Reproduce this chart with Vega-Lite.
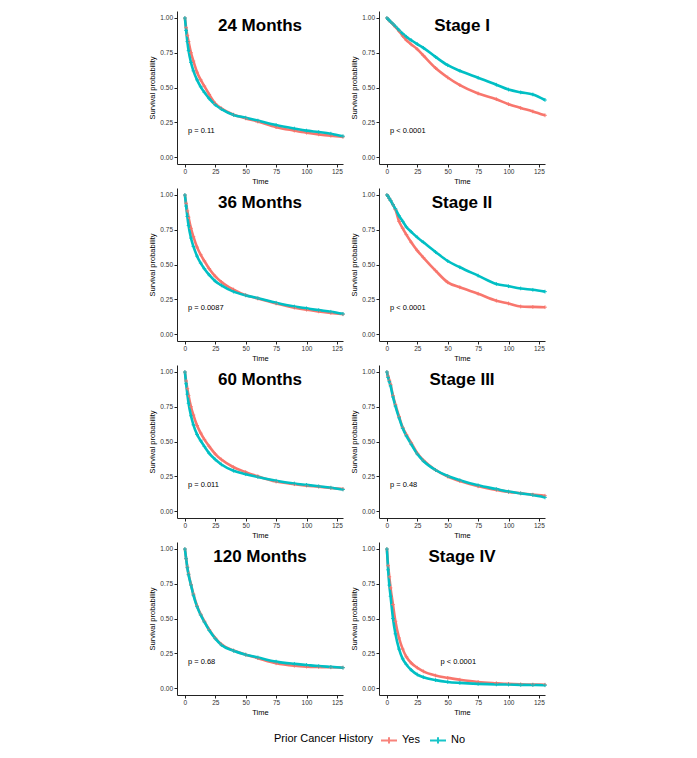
{
"$schema":"https://vega.github.io/schema/vega-lite/v6.json",
"padding":{"left":148,"top":11,"right":5,"bottom":5},
"background":"white",
"config":{"font":"Liberation Sans","view":{"stroke":null},
"axis":{"grid":false,"labelOverlap":false,"labelFlush":false,"domainColor":"#222","tickColor":"#222","labelColor":"#333","titleColor":"#000","labelFontSize":6.5,"titleFontSize":7.5,"titleFontWeight":"normal","tickSize":3,"labelPadding":1.5,"titlePadding":2},
"axisY":{"titlePadding":3},
"legend":{"orient":"none","direction":"horizontal","titleOrient":"left","titleFontSize":11,"titleFontWeight":"normal","titleColor":"#000","labelFontSize":11,"labelColor":"#000","symbolType":"M-1,0H1M0,-0.4V0.4","symbolSize":256,"symbolStrokeWidth":2,"legendX":97,"legendY":720,"columnPadding":6,"labelOffset":4,"titlePadding":6}},
"data":{"values":[
{"panel":"24 Months","group":"Yes","time":0,"surv":1},{"panel":"24 Months","group":"Yes","time":1,"surv":0.93},{"panel":"24 Months","group":"Yes","time":2,"surv":0.875},{"panel":"24 Months","group":"Yes","time":3,"surv":0.83},{"panel":"24 Months","group":"Yes","time":5,"surv":0.75},{"panel":"24 Months","group":"Yes","time":7,"surv":0.69},{"panel":"24 Months","group":"Yes","time":10,"surv":0.61},{"panel":"24 Months","group":"Yes","time":13,"surv":0.555},{"panel":"24 Months","group":"Yes","time":16,"surv":0.51},{"panel":"24 Months","group":"Yes","time":20,"surv":0.45},{"panel":"24 Months","group":"Yes","time":25,"surv":0.385},{"panel":"24 Months","group":"Yes","time":30,"surv":0.35},{"panel":"24 Months","group":"Yes","time":40,"surv":0.305},{"panel":"24 Months","group":"Yes","time":50,"surv":0.278},{"panel":"24 Months","group":"Yes","time":60,"surv":0.255},{"panel":"24 Months","group":"Yes","time":75,"surv":0.215},{"panel":"24 Months","group":"Yes","time":90,"surv":0.19},{"panel":"24 Months","group":"Yes","time":100,"surv":0.175},{"panel":"24 Months","group":"Yes","time":110,"surv":0.163},{"panel":"24 Months","group":"Yes","time":120,"surv":0.153},{"panel":"24 Months","group":"Yes","time":130,"surv":0.145},
{"panel":"24 Months","group":"No","time":0,"surv":1},{"panel":"24 Months","group":"No","time":1,"surv":0.91},{"panel":"24 Months","group":"No","time":2,"surv":0.83},{"panel":"24 Months","group":"No","time":3,"surv":0.765},{"panel":"24 Months","group":"No","time":5,"surv":0.68},{"panel":"24 Months","group":"No","time":7,"surv":0.62},{"panel":"24 Months","group":"No","time":10,"surv":0.555},{"panel":"24 Months","group":"No","time":13,"surv":0.505},{"panel":"24 Months","group":"No","time":16,"surv":0.465},{"panel":"24 Months","group":"No","time":20,"surv":0.42},{"panel":"24 Months","group":"No","time":25,"surv":0.375},{"panel":"24 Months","group":"No","time":30,"surv":0.345},{"panel":"24 Months","group":"No","time":40,"surv":0.303},{"panel":"24 Months","group":"No","time":50,"surv":0.283},{"panel":"24 Months","group":"No","time":60,"surv":0.262},{"panel":"24 Months","group":"No","time":75,"surv":0.23},{"panel":"24 Months","group":"No","time":90,"surv":0.205},{"panel":"24 Months","group":"No","time":100,"surv":0.19},{"panel":"24 Months","group":"No","time":110,"surv":0.18},{"panel":"24 Months","group":"No","time":120,"surv":0.168},{"panel":"24 Months","group":"No","time":130,"surv":0.15},
{"panel":"36 Months","group":"Yes","time":0,"surv":1},{"panel":"36 Months","group":"Yes","time":1,"surv":0.94},{"panel":"36 Months","group":"Yes","time":2,"surv":0.885},{"panel":"36 Months","group":"Yes","time":3,"surv":0.84},{"panel":"36 Months","group":"Yes","time":5,"surv":0.76},{"panel":"36 Months","group":"Yes","time":7,"surv":0.7},{"panel":"36 Months","group":"Yes","time":10,"surv":0.625},{"panel":"36 Months","group":"Yes","time":13,"surv":0.57},{"panel":"36 Months","group":"Yes","time":16,"surv":0.525},{"panel":"36 Months","group":"Yes","time":20,"surv":0.47},{"panel":"36 Months","group":"Yes","time":25,"surv":0.415},{"panel":"36 Months","group":"Yes","time":30,"surv":0.375},{"panel":"36 Months","group":"Yes","time":40,"surv":0.32},{"panel":"36 Months","group":"Yes","time":50,"surv":0.28},{"panel":"36 Months","group":"Yes","time":60,"surv":0.255},{"panel":"36 Months","group":"Yes","time":75,"surv":0.22},{"panel":"36 Months","group":"Yes","time":90,"surv":0.19},{"panel":"36 Months","group":"Yes","time":100,"surv":0.175},{"panel":"36 Months","group":"Yes","time":110,"surv":0.163},{"panel":"36 Months","group":"Yes","time":120,"surv":0.152},{"panel":"36 Months","group":"Yes","time":130,"surv":0.142},
{"panel":"36 Months","group":"No","time":0,"surv":1},{"panel":"36 Months","group":"No","time":1,"surv":0.92},{"panel":"36 Months","group":"No","time":2,"surv":0.845},{"panel":"36 Months","group":"No","time":3,"surv":0.78},{"panel":"36 Months","group":"No","time":5,"surv":0.69},{"panel":"36 Months","group":"No","time":7,"surv":0.63},{"panel":"36 Months","group":"No","time":10,"surv":0.56},{"panel":"36 Months","group":"No","time":13,"surv":0.51},{"panel":"36 Months","group":"No","time":16,"surv":0.47},{"panel":"36 Months","group":"No","time":20,"surv":0.425},{"panel":"36 Months","group":"No","time":25,"surv":0.38},{"panel":"36 Months","group":"No","time":30,"surv":0.35},{"panel":"36 Months","group":"No","time":40,"surv":0.305},{"panel":"36 Months","group":"No","time":50,"surv":0.278},{"panel":"36 Months","group":"No","time":60,"surv":0.258},{"panel":"36 Months","group":"No","time":75,"surv":0.225},{"panel":"36 Months","group":"No","time":90,"surv":0.198},{"panel":"36 Months","group":"No","time":100,"surv":0.185},{"panel":"36 Months","group":"No","time":110,"surv":0.172},{"panel":"36 Months","group":"No","time":120,"surv":0.16},{"panel":"36 Months","group":"No","time":130,"surv":0.145},
{"panel":"60 Months","group":"Yes","time":0,"surv":1},{"panel":"60 Months","group":"Yes","time":1,"surv":0.935},{"panel":"60 Months","group":"Yes","time":2,"surv":0.88},{"panel":"60 Months","group":"Yes","time":3,"surv":0.83},{"panel":"60 Months","group":"Yes","time":5,"surv":0.75},{"panel":"60 Months","group":"Yes","time":7,"surv":0.69},{"panel":"60 Months","group":"Yes","time":10,"surv":0.615},{"panel":"60 Months","group":"Yes","time":13,"surv":0.56},{"panel":"60 Months","group":"Yes","time":16,"surv":0.515},{"panel":"60 Months","group":"Yes","time":20,"surv":0.465},{"panel":"60 Months","group":"Yes","time":25,"surv":0.41},{"panel":"60 Months","group":"Yes","time":30,"surv":0.37},{"panel":"60 Months","group":"Yes","time":40,"surv":0.315},{"panel":"60 Months","group":"Yes","time":50,"surv":0.28},{"panel":"60 Months","group":"Yes","time":60,"surv":0.25},{"panel":"60 Months","group":"Yes","time":75,"surv":0.212},{"panel":"60 Months","group":"Yes","time":90,"surv":0.193},{"panel":"60 Months","group":"Yes","time":100,"surv":0.183},{"panel":"60 Months","group":"Yes","time":110,"surv":0.175},{"panel":"60 Months","group":"Yes","time":120,"surv":0.166},{"panel":"60 Months","group":"Yes","time":130,"surv":0.158},
{"panel":"60 Months","group":"No","time":0,"surv":1},{"panel":"60 Months","group":"No","time":1,"surv":0.915},{"panel":"60 Months","group":"No","time":2,"surv":0.84},{"panel":"60 Months","group":"No","time":3,"surv":0.775},{"panel":"60 Months","group":"No","time":5,"surv":0.685},{"panel":"60 Months","group":"No","time":7,"surv":0.62},{"panel":"60 Months","group":"No","time":10,"surv":0.55},{"panel":"60 Months","group":"No","time":13,"surv":0.505},{"panel":"60 Months","group":"No","time":16,"surv":0.465},{"panel":"60 Months","group":"No","time":20,"surv":0.415},{"panel":"60 Months","group":"No","time":25,"surv":0.37},{"panel":"60 Months","group":"No","time":30,"surv":0.335},{"panel":"60 Months","group":"No","time":40,"surv":0.29},{"panel":"60 Months","group":"No","time":50,"surv":0.265},{"panel":"60 Months","group":"No","time":60,"surv":0.245},{"panel":"60 Months","group":"No","time":75,"surv":0.218},{"panel":"60 Months","group":"No","time":90,"surv":0.198},{"panel":"60 Months","group":"No","time":100,"surv":0.188},{"panel":"60 Months","group":"No","time":110,"surv":0.178},{"panel":"60 Months","group":"No","time":120,"surv":0.168},{"panel":"60 Months","group":"No","time":130,"surv":0.155},
{"panel":"120 Months","group":"Yes","time":0,"surv":1},{"panel":"120 Months","group":"Yes","time":1,"surv":0.93},{"panel":"120 Months","group":"Yes","time":2,"surv":0.87},{"panel":"120 Months","group":"Yes","time":3,"surv":0.82},{"panel":"120 Months","group":"Yes","time":5,"surv":0.745},{"panel":"120 Months","group":"Yes","time":7,"surv":0.675},{"panel":"120 Months","group":"Yes","time":10,"surv":0.59},{"panel":"120 Months","group":"Yes","time":13,"surv":0.53},{"panel":"120 Months","group":"Yes","time":16,"surv":0.48},{"panel":"120 Months","group":"Yes","time":20,"surv":0.42},{"panel":"120 Months","group":"Yes","time":25,"surv":0.36},{"panel":"120 Months","group":"Yes","time":30,"surv":0.315},{"panel":"120 Months","group":"Yes","time":40,"surv":0.27},{"panel":"120 Months","group":"Yes","time":50,"surv":0.24},{"panel":"120 Months","group":"Yes","time":60,"surv":0.215},{"panel":"120 Months","group":"Yes","time":75,"surv":0.178},{"panel":"120 Months","group":"Yes","time":90,"surv":0.16},{"panel":"120 Months","group":"Yes","time":100,"surv":0.154},{"panel":"120 Months","group":"Yes","time":110,"surv":0.151},{"panel":"120 Months","group":"Yes","time":120,"surv":0.149},{"panel":"120 Months","group":"Yes","time":130,"surv":0.147},
{"panel":"120 Months","group":"No","time":0,"surv":1},{"panel":"120 Months","group":"No","time":1,"surv":0.93},{"panel":"120 Months","group":"No","time":2,"surv":0.865},{"panel":"120 Months","group":"No","time":3,"surv":0.815},{"panel":"120 Months","group":"No","time":5,"surv":0.74},{"panel":"120 Months","group":"No","time":7,"surv":0.668},{"panel":"120 Months","group":"No","time":10,"surv":0.585},{"panel":"120 Months","group":"No","time":13,"surv":0.525},{"panel":"120 Months","group":"No","time":16,"surv":0.475},{"panel":"120 Months","group":"No","time":20,"surv":0.415},{"panel":"120 Months","group":"No","time":25,"surv":0.355},{"panel":"120 Months","group":"No","time":30,"surv":0.31},{"panel":"120 Months","group":"No","time":40,"surv":0.268},{"panel":"120 Months","group":"No","time":50,"surv":0.24},{"panel":"120 Months","group":"No","time":60,"surv":0.22},{"panel":"120 Months","group":"No","time":75,"surv":0.19},{"panel":"120 Months","group":"No","time":90,"surv":0.174},{"panel":"120 Months","group":"No","time":100,"surv":0.166},{"panel":"120 Months","group":"No","time":110,"surv":0.158},{"panel":"120 Months","group":"No","time":120,"surv":0.152},{"panel":"120 Months","group":"No","time":130,"surv":0.146},
{"panel":"Stage I","group":"Yes","time":0,"surv":1},{"panel":"Stage I","group":"Yes","time":1,"surv":0.99},{"panel":"Stage I","group":"Yes","time":2,"surv":0.982},{"panel":"Stage I","group":"Yes","time":3,"surv":0.972},{"panel":"Stage I","group":"Yes","time":5,"surv":0.955},{"panel":"Stage I","group":"Yes","time":7,"surv":0.935},{"panel":"Stage I","group":"Yes","time":10,"surv":0.905},{"panel":"Stage I","group":"Yes","time":13,"surv":0.87},{"panel":"Stage I","group":"Yes","time":16,"surv":0.84},{"panel":"Stage I","group":"Yes","time":20,"surv":0.81},{"panel":"Stage I","group":"Yes","time":25,"surv":0.775},{"panel":"Stage I","group":"Yes","time":30,"surv":0.73},{"panel":"Stage I","group":"Yes","time":40,"surv":0.64},{"panel":"Stage I","group":"Yes","time":50,"surv":0.572},{"panel":"Stage I","group":"Yes","time":60,"surv":0.517},{"panel":"Stage I","group":"Yes","time":75,"surv":0.457},{"panel":"Stage I","group":"Yes","time":90,"surv":0.416},{"panel":"Stage I","group":"Yes","time":100,"surv":0.38},{"panel":"Stage I","group":"Yes","time":110,"surv":0.353},{"panel":"Stage I","group":"Yes","time":120,"surv":0.328},{"panel":"Stage I","group":"Yes","time":130,"surv":0.3},
{"panel":"Stage I","group":"No","time":0,"surv":1},{"panel":"Stage I","group":"No","time":1,"surv":0.99},{"panel":"Stage I","group":"No","time":2,"surv":0.983},{"panel":"Stage I","group":"No","time":3,"surv":0.973},{"panel":"Stage I","group":"No","time":5,"surv":0.957},{"panel":"Stage I","group":"No","time":7,"surv":0.94},{"panel":"Stage I","group":"No","time":10,"surv":0.912},{"panel":"Stage I","group":"No","time":13,"surv":0.887},{"panel":"Stage I","group":"No","time":16,"surv":0.865},{"panel":"Stage I","group":"No","time":20,"surv":0.84},{"panel":"Stage I","group":"No","time":25,"surv":0.812},{"panel":"Stage I","group":"No","time":30,"surv":0.785},{"panel":"Stage I","group":"No","time":40,"surv":0.72},{"panel":"Stage I","group":"No","time":50,"surv":0.66},{"panel":"Stage I","group":"No","time":60,"surv":0.62},{"panel":"Stage I","group":"No","time":75,"surv":0.57},{"panel":"Stage I","group":"No","time":90,"surv":0.52},{"panel":"Stage I","group":"No","time":100,"surv":0.485},{"panel":"Stage I","group":"No","time":110,"surv":0.465},{"panel":"Stage I","group":"No","time":120,"surv":0.45},{"panel":"Stage I","group":"No","time":130,"surv":0.41},
{"panel":"Stage II","group":"Yes","time":0,"surv":1},{"panel":"Stage II","group":"Yes","time":1,"surv":0.99},{"panel":"Stage II","group":"Yes","time":2,"surv":0.975},{"panel":"Stage II","group":"Yes","time":3,"surv":0.96},{"panel":"Stage II","group":"Yes","time":5,"surv":0.93},{"panel":"Stage II","group":"Yes","time":7,"surv":0.895},{"panel":"Stage II","group":"Yes","time":10,"surv":0.81},{"panel":"Stage II","group":"Yes","time":13,"surv":0.76},{"panel":"Stage II","group":"Yes","time":16,"surv":0.715},{"panel":"Stage II","group":"Yes","time":20,"surv":0.66},{"panel":"Stage II","group":"Yes","time":25,"surv":0.6},{"panel":"Stage II","group":"Yes","time":30,"surv":0.55},{"panel":"Stage II","group":"Yes","time":40,"surv":0.456},{"panel":"Stage II","group":"Yes","time":50,"surv":0.372},{"panel":"Stage II","group":"Yes","time":60,"surv":0.336},{"panel":"Stage II","group":"Yes","time":75,"surv":0.29},{"panel":"Stage II","group":"Yes","time":90,"surv":0.24},{"panel":"Stage II","group":"Yes","time":100,"surv":0.22},{"panel":"Stage II","group":"Yes","time":110,"surv":0.198},{"panel":"Stage II","group":"Yes","time":120,"surv":0.195},{"panel":"Stage II","group":"Yes","time":130,"surv":0.193},
{"panel":"Stage II","group":"No","time":0,"surv":1},{"panel":"Stage II","group":"No","time":1,"surv":0.99},{"panel":"Stage II","group":"No","time":2,"surv":0.975},{"panel":"Stage II","group":"No","time":3,"surv":0.96},{"panel":"Stage II","group":"No","time":5,"surv":0.93},{"panel":"Stage II","group":"No","time":7,"surv":0.9},{"panel":"Stage II","group":"No","time":10,"surv":0.85},{"panel":"Stage II","group":"No","time":13,"surv":0.81},{"panel":"Stage II","group":"No","time":16,"surv":0.77},{"panel":"Stage II","group":"No","time":20,"surv":0.735},{"panel":"Stage II","group":"No","time":25,"surv":0.695},{"panel":"Stage II","group":"No","time":30,"surv":0.66},{"panel":"Stage II","group":"No","time":40,"surv":0.59},{"panel":"Stage II","group":"No","time":50,"surv":0.525},{"panel":"Stage II","group":"No","time":60,"surv":0.48},{"panel":"Stage II","group":"No","time":75,"surv":0.42},{"panel":"Stage II","group":"No","time":90,"surv":0.36},{"panel":"Stage II","group":"No","time":100,"surv":0.344},{"panel":"Stage II","group":"No","time":110,"surv":0.328},{"panel":"Stage II","group":"No","time":120,"surv":0.318},{"panel":"Stage II","group":"No","time":130,"surv":0.305},
{"panel":"Stage III","group":"Yes","time":0,"surv":1},{"panel":"Stage III","group":"Yes","time":1,"surv":0.97},{"panel":"Stage III","group":"Yes","time":2,"surv":0.94},{"panel":"Stage III","group":"Yes","time":3,"surv":0.91},{"panel":"Stage III","group":"Yes","time":5,"surv":0.83},{"panel":"Stage III","group":"Yes","time":7,"surv":0.765},{"panel":"Stage III","group":"Yes","time":10,"surv":0.68},{"panel":"Stage III","group":"Yes","time":13,"surv":0.6},{"panel":"Stage III","group":"Yes","time":16,"surv":0.55},{"panel":"Stage III","group":"Yes","time":20,"surv":0.49},{"panel":"Stage III","group":"Yes","time":25,"surv":0.415},{"panel":"Stage III","group":"Yes","time":30,"surv":0.365},{"panel":"Stage III","group":"Yes","time":40,"surv":0.295},{"panel":"Stage III","group":"Yes","time":50,"surv":0.248},{"panel":"Stage III","group":"Yes","time":60,"surv":0.215},{"panel":"Stage III","group":"Yes","time":75,"surv":0.178},{"panel":"Stage III","group":"Yes","time":90,"surv":0.152},{"panel":"Stage III","group":"Yes","time":100,"surv":0.138},{"panel":"Stage III","group":"Yes","time":110,"surv":0.128},{"panel":"Stage III","group":"Yes","time":120,"surv":0.118},{"panel":"Stage III","group":"Yes","time":130,"surv":0.11},
{"panel":"Stage III","group":"No","time":0,"surv":1},{"panel":"Stage III","group":"No","time":1,"surv":0.96},{"panel":"Stage III","group":"No","time":2,"surv":0.93},{"panel":"Stage III","group":"No","time":3,"surv":0.9},{"panel":"Stage III","group":"No","time":5,"surv":0.82},{"panel":"Stage III","group":"No","time":7,"surv":0.755},{"panel":"Stage III","group":"No","time":10,"surv":0.67},{"panel":"Stage III","group":"No","time":13,"surv":0.595},{"panel":"Stage III","group":"No","time":16,"surv":0.54},{"panel":"Stage III","group":"No","time":20,"surv":0.48},{"panel":"Stage III","group":"No","time":25,"surv":0.41},{"panel":"Stage III","group":"No","time":30,"surv":0.36},{"panel":"Stage III","group":"No","time":40,"surv":0.295},{"panel":"Stage III","group":"No","time":50,"surv":0.252},{"panel":"Stage III","group":"No","time":60,"surv":0.222},{"panel":"Stage III","group":"No","time":75,"surv":0.185},{"panel":"Stage III","group":"No","time":90,"surv":0.158},{"panel":"Stage III","group":"No","time":100,"surv":0.14},{"panel":"Stage III","group":"No","time":110,"surv":0.127},{"panel":"Stage III","group":"No","time":120,"surv":0.115},{"panel":"Stage III","group":"No","time":130,"surv":0.098},
{"panel":"Stage IV","group":"Yes","time":0,"surv":1},{"panel":"Stage IV","group":"Yes","time":1,"surv":0.88},{"panel":"Stage IV","group":"Yes","time":2,"surv":0.8},{"panel":"Stage IV","group":"Yes","time":3,"surv":0.72},{"panel":"Stage IV","group":"Yes","time":5,"surv":0.6},{"panel":"Stage IV","group":"Yes","time":7,"surv":0.48},{"panel":"Stage IV","group":"Yes","time":10,"surv":0.36},{"panel":"Stage IV","group":"Yes","time":13,"surv":0.28},{"panel":"Stage IV","group":"Yes","time":16,"surv":0.225},{"panel":"Stage IV","group":"Yes","time":20,"surv":0.18},{"panel":"Stage IV","group":"Yes","time":25,"surv":0.146},{"panel":"Stage IV","group":"Yes","time":30,"surv":0.12},{"panel":"Stage IV","group":"Yes","time":40,"surv":0.09},{"panel":"Stage IV","group":"Yes","time":50,"surv":0.073},{"panel":"Stage IV","group":"Yes","time":60,"surv":0.06},{"panel":"Stage IV","group":"Yes","time":75,"surv":0.044},{"panel":"Stage IV","group":"Yes","time":90,"surv":0.035},{"panel":"Stage IV","group":"Yes","time":100,"surv":0.03},{"panel":"Stage IV","group":"Yes","time":110,"surv":0.027},{"panel":"Stage IV","group":"Yes","time":120,"surv":0.025},{"panel":"Stage IV","group":"Yes","time":130,"surv":0.024},
{"panel":"Stage IV","group":"No","time":0,"surv":1},{"panel":"Stage IV","group":"No","time":1,"surv":0.85},{"panel":"Stage IV","group":"No","time":2,"surv":0.74},{"panel":"Stage IV","group":"No","time":3,"surv":0.66},{"panel":"Stage IV","group":"No","time":5,"surv":0.5},{"panel":"Stage IV","group":"No","time":7,"surv":0.39},{"panel":"Stage IV","group":"No","time":10,"surv":0.28},{"panel":"Stage IV","group":"No","time":13,"surv":0.21},{"panel":"Stage IV","group":"No","time":16,"surv":0.17},{"panel":"Stage IV","group":"No","time":20,"surv":0.13},{"panel":"Stage IV","group":"No","time":25,"surv":0.097},{"panel":"Stage IV","group":"No","time":30,"surv":0.078},{"panel":"Stage IV","group":"No","time":40,"surv":0.057},{"panel":"Stage IV","group":"No","time":50,"surv":0.044},{"panel":"Stage IV","group":"No","time":60,"surv":0.037},{"panel":"Stage IV","group":"No","time":75,"surv":0.03},{"panel":"Stage IV","group":"No","time":90,"surv":0.026},{"panel":"Stage IV","group":"No","time":100,"surv":0.025},{"panel":"Stage IV","group":"No","time":110,"surv":0.023},{"panel":"Stage IV","group":"No","time":120,"surv":0.022},{"panel":"Stage IV","group":"No","time":130,"surv":0.02}
]},
"columns":2,
"spacing":{"row":24,"column":36},
"bounds":"flush",
"concat":[
{"width":166,"height":153,"layer":[
{"transform":[{"filter":"datum.panel==='24 Months'"}],"mark":{"type":"line","strokeWidth":2.6,"interpolate":"monotone"},"encoding":{"x":{"field":"time","type":"quantitative","scale":{"domain":[-6.5,130],"nice":false,"zero":false},"axis":{"values":[0,25,50,75,100,125],"title":"Time"}},"y":{"field":"surv","type":"quantitative","scale":{"domain":[-0.05,1.05],"nice":false,"zero":false},"axis":{"values":[0,0.25,0.5,0.75,1],"format":".2f","title":"Survival probability"}},"color":{"field":"group","type":"nominal","title":"Prior Cancer History","scale":{"domain":["Yes","No"],"range":["#F8766D","#00BFC4"]}}}},
{"transform":[{"filter":"datum.panel==='24 Months'"}],"mark":{"type":"point","shape":"M-1,0H1M0,-1V1","size":14,"strokeWidth":1,"filled":false,"opacity":0.9},"encoding":{"x":{"field":"time","type":"quantitative","axis":{"values":[0,25,50,75,100,125],"title":"Time"}},"y":{"field":"surv","type":"quantitative","axis":{"values":[0,0.25,0.5,0.75,1],"format":".2f","title":"Survival probability"}},"color":{"field":"group","type":"nominal"}}},
{"data":{"values":[{"label":"24 Months","p":"p = 0.11"}]},"mark":{"type":"text","fontSize":17,"fontWeight":"bold","align":"center","baseline":"alphabetic","color":"#000"},"encoding":{"x":{"datum":61.75,"type":"quantitative","axis":{"values":[0,25,50,75,100,125],"title":"Time"}},"y":{"datum":0.905,"type":"quantitative","axis":{"values":[0,0.25,0.5,0.75,1],"format":".2f","title":"Survival probability"}},"text":{"field":"label"}}},
{"data":{"values":[{"label":"24 Months","p":"p = 0.11"}]},"mark":{"type":"text","fontSize":7.5,"align":"left","baseline":"alphabetic","color":"#000"},"encoding":{"x":{"datum":2.5,"type":"quantitative","axis":{"values":[0,25,50,75,100,125],"title":"Time"}},"y":{"datum":0.175,"type":"quantitative","axis":{"values":[0,0.25,0.5,0.75,1],"format":".2f","title":"Survival probability"}},"text":{"field":"p"}}}]},
{"width":166,"height":153,"layer":[
{"transform":[{"filter":"datum.panel==='Stage I'"}],"mark":{"type":"line","strokeWidth":2.6,"interpolate":"monotone"},"encoding":{"x":{"field":"time","type":"quantitative","scale":{"domain":[-6.5,130],"nice":false,"zero":false},"axis":{"values":[0,25,50,75,100,125],"title":"Time"}},"y":{"field":"surv","type":"quantitative","scale":{"domain":[-0.05,1.05],"nice":false,"zero":false},"axis":{"values":[0,0.25,0.5,0.75,1],"format":".2f","title":"Survival probability"}},"color":{"field":"group","type":"nominal","title":"Prior Cancer History","scale":{"domain":["Yes","No"],"range":["#F8766D","#00BFC4"]}}}},
{"transform":[{"filter":"datum.panel==='Stage I'"}],"mark":{"type":"point","shape":"M-1,0H1M0,-1V1","size":14,"strokeWidth":1,"filled":false,"opacity":0.9},"encoding":{"x":{"field":"time","type":"quantitative","axis":{"values":[0,25,50,75,100,125],"title":"Time"}},"y":{"field":"surv","type":"quantitative","axis":{"values":[0,0.25,0.5,0.75,1],"format":".2f","title":"Survival probability"}},"color":{"field":"group","type":"nominal"}}},
{"data":{"values":[{"label":"Stage I","p":"p < 0.0001"}]},"mark":{"type":"text","fontSize":17,"fontWeight":"bold","align":"center","baseline":"alphabetic","color":"#000"},"encoding":{"x":{"datum":61.75,"type":"quantitative","axis":{"values":[0,25,50,75,100,125],"title":"Time"}},"y":{"datum":0.905,"type":"quantitative","axis":{"values":[0,0.25,0.5,0.75,1],"format":".2f","title":"Survival probability"}},"text":{"field":"label"}}},
{"data":{"values":[{"label":"Stage I","p":"p < 0.0001"}]},"mark":{"type":"text","fontSize":7.5,"align":"left","baseline":"alphabetic","color":"#000"},"encoding":{"x":{"datum":2.5,"type":"quantitative","axis":{"values":[0,25,50,75,100,125],"title":"Time"}},"y":{"datum":0.175,"type":"quantitative","axis":{"values":[0,0.25,0.5,0.75,1],"format":".2f","title":"Survival probability"}},"text":{"field":"p"}}}]},
{"width":166,"height":153,"layer":[
{"transform":[{"filter":"datum.panel==='36 Months'"}],"mark":{"type":"line","strokeWidth":2.6,"interpolate":"monotone"},"encoding":{"x":{"field":"time","type":"quantitative","scale":{"domain":[-6.5,130],"nice":false,"zero":false},"axis":{"values":[0,25,50,75,100,125],"title":"Time"}},"y":{"field":"surv","type":"quantitative","scale":{"domain":[-0.05,1.05],"nice":false,"zero":false},"axis":{"values":[0,0.25,0.5,0.75,1],"format":".2f","title":"Survival probability"}},"color":{"field":"group","type":"nominal","title":"Prior Cancer History","scale":{"domain":["Yes","No"],"range":["#F8766D","#00BFC4"]}}}},
{"transform":[{"filter":"datum.panel==='36 Months'"}],"mark":{"type":"point","shape":"M-1,0H1M0,-1V1","size":14,"strokeWidth":1,"filled":false,"opacity":0.9},"encoding":{"x":{"field":"time","type":"quantitative","axis":{"values":[0,25,50,75,100,125],"title":"Time"}},"y":{"field":"surv","type":"quantitative","axis":{"values":[0,0.25,0.5,0.75,1],"format":".2f","title":"Survival probability"}},"color":{"field":"group","type":"nominal"}}},
{"data":{"values":[{"label":"36 Months","p":"p = 0.0087"}]},"mark":{"type":"text","fontSize":17,"fontWeight":"bold","align":"center","baseline":"alphabetic","color":"#000"},"encoding":{"x":{"datum":61.75,"type":"quantitative","axis":{"values":[0,25,50,75,100,125],"title":"Time"}},"y":{"datum":0.905,"type":"quantitative","axis":{"values":[0,0.25,0.5,0.75,1],"format":".2f","title":"Survival probability"}},"text":{"field":"label"}}},
{"data":{"values":[{"label":"36 Months","p":"p = 0.0087"}]},"mark":{"type":"text","fontSize":7.5,"align":"left","baseline":"alphabetic","color":"#000"},"encoding":{"x":{"datum":2.5,"type":"quantitative","axis":{"values":[0,25,50,75,100,125],"title":"Time"}},"y":{"datum":0.175,"type":"quantitative","axis":{"values":[0,0.25,0.5,0.75,1],"format":".2f","title":"Survival probability"}},"text":{"field":"p"}}}]},
{"width":166,"height":153,"layer":[
{"transform":[{"filter":"datum.panel==='Stage II'"}],"mark":{"type":"line","strokeWidth":2.6,"interpolate":"monotone"},"encoding":{"x":{"field":"time","type":"quantitative","scale":{"domain":[-6.5,130],"nice":false,"zero":false},"axis":{"values":[0,25,50,75,100,125],"title":"Time"}},"y":{"field":"surv","type":"quantitative","scale":{"domain":[-0.05,1.05],"nice":false,"zero":false},"axis":{"values":[0,0.25,0.5,0.75,1],"format":".2f","title":"Survival probability"}},"color":{"field":"group","type":"nominal","title":"Prior Cancer History","scale":{"domain":["Yes","No"],"range":["#F8766D","#00BFC4"]}}}},
{"transform":[{"filter":"datum.panel==='Stage II'"}],"mark":{"type":"point","shape":"M-1,0H1M0,-1V1","size":14,"strokeWidth":1,"filled":false,"opacity":0.9},"encoding":{"x":{"field":"time","type":"quantitative","axis":{"values":[0,25,50,75,100,125],"title":"Time"}},"y":{"field":"surv","type":"quantitative","axis":{"values":[0,0.25,0.5,0.75,1],"format":".2f","title":"Survival probability"}},"color":{"field":"group","type":"nominal"}}},
{"data":{"values":[{"label":"Stage II","p":"p < 0.0001"}]},"mark":{"type":"text","fontSize":17,"fontWeight":"bold","align":"center","baseline":"alphabetic","color":"#000"},"encoding":{"x":{"datum":61.75,"type":"quantitative","axis":{"values":[0,25,50,75,100,125],"title":"Time"}},"y":{"datum":0.905,"type":"quantitative","axis":{"values":[0,0.25,0.5,0.75,1],"format":".2f","title":"Survival probability"}},"text":{"field":"label"}}},
{"data":{"values":[{"label":"Stage II","p":"p < 0.0001"}]},"mark":{"type":"text","fontSize":7.5,"align":"left","baseline":"alphabetic","color":"#000"},"encoding":{"x":{"datum":2.5,"type":"quantitative","axis":{"values":[0,25,50,75,100,125],"title":"Time"}},"y":{"datum":0.175,"type":"quantitative","axis":{"values":[0,0.25,0.5,0.75,1],"format":".2f","title":"Survival probability"}},"text":{"field":"p"}}}]},
{"width":166,"height":153,"layer":[
{"transform":[{"filter":"datum.panel==='60 Months'"}],"mark":{"type":"line","strokeWidth":2.6,"interpolate":"monotone"},"encoding":{"x":{"field":"time","type":"quantitative","scale":{"domain":[-6.5,130],"nice":false,"zero":false},"axis":{"values":[0,25,50,75,100,125],"title":"Time"}},"y":{"field":"surv","type":"quantitative","scale":{"domain":[-0.05,1.05],"nice":false,"zero":false},"axis":{"values":[0,0.25,0.5,0.75,1],"format":".2f","title":"Survival probability"}},"color":{"field":"group","type":"nominal","title":"Prior Cancer History","scale":{"domain":["Yes","No"],"range":["#F8766D","#00BFC4"]}}}},
{"transform":[{"filter":"datum.panel==='60 Months'"}],"mark":{"type":"point","shape":"M-1,0H1M0,-1V1","size":14,"strokeWidth":1,"filled":false,"opacity":0.9},"encoding":{"x":{"field":"time","type":"quantitative","axis":{"values":[0,25,50,75,100,125],"title":"Time"}},"y":{"field":"surv","type":"quantitative","axis":{"values":[0,0.25,0.5,0.75,1],"format":".2f","title":"Survival probability"}},"color":{"field":"group","type":"nominal"}}},
{"data":{"values":[{"label":"60 Months","p":"p = 0.011"}]},"mark":{"type":"text","fontSize":17,"fontWeight":"bold","align":"center","baseline":"alphabetic","color":"#000"},"encoding":{"x":{"datum":61.75,"type":"quantitative","axis":{"values":[0,25,50,75,100,125],"title":"Time"}},"y":{"datum":0.905,"type":"quantitative","axis":{"values":[0,0.25,0.5,0.75,1],"format":".2f","title":"Survival probability"}},"text":{"field":"label"}}},
{"data":{"values":[{"label":"60 Months","p":"p = 0.011"}]},"mark":{"type":"text","fontSize":7.5,"align":"left","baseline":"alphabetic","color":"#000"},"encoding":{"x":{"datum":2.5,"type":"quantitative","axis":{"values":[0,25,50,75,100,125],"title":"Time"}},"y":{"datum":0.175,"type":"quantitative","axis":{"values":[0,0.25,0.5,0.75,1],"format":".2f","title":"Survival probability"}},"text":{"field":"p"}}}]},
{"width":166,"height":153,"layer":[
{"transform":[{"filter":"datum.panel==='Stage III'"}],"mark":{"type":"line","strokeWidth":2.6,"interpolate":"monotone"},"encoding":{"x":{"field":"time","type":"quantitative","scale":{"domain":[-6.5,130],"nice":false,"zero":false},"axis":{"values":[0,25,50,75,100,125],"title":"Time"}},"y":{"field":"surv","type":"quantitative","scale":{"domain":[-0.05,1.05],"nice":false,"zero":false},"axis":{"values":[0,0.25,0.5,0.75,1],"format":".2f","title":"Survival probability"}},"color":{"field":"group","type":"nominal","title":"Prior Cancer History","scale":{"domain":["Yes","No"],"range":["#F8766D","#00BFC4"]}}}},
{"transform":[{"filter":"datum.panel==='Stage III'"}],"mark":{"type":"point","shape":"M-1,0H1M0,-1V1","size":14,"strokeWidth":1,"filled":false,"opacity":0.9},"encoding":{"x":{"field":"time","type":"quantitative","axis":{"values":[0,25,50,75,100,125],"title":"Time"}},"y":{"field":"surv","type":"quantitative","axis":{"values":[0,0.25,0.5,0.75,1],"format":".2f","title":"Survival probability"}},"color":{"field":"group","type":"nominal"}}},
{"data":{"values":[{"label":"Stage III","p":"p = 0.48"}]},"mark":{"type":"text","fontSize":17,"fontWeight":"bold","align":"center","baseline":"alphabetic","color":"#000"},"encoding":{"x":{"datum":61.75,"type":"quantitative","axis":{"values":[0,25,50,75,100,125],"title":"Time"}},"y":{"datum":0.905,"type":"quantitative","axis":{"values":[0,0.25,0.5,0.75,1],"format":".2f","title":"Survival probability"}},"text":{"field":"label"}}},
{"data":{"values":[{"label":"Stage III","p":"p = 0.48"}]},"mark":{"type":"text","fontSize":7.5,"align":"left","baseline":"alphabetic","color":"#000"},"encoding":{"x":{"datum":2.5,"type":"quantitative","axis":{"values":[0,25,50,75,100,125],"title":"Time"}},"y":{"datum":0.175,"type":"quantitative","axis":{"values":[0,0.25,0.5,0.75,1],"format":".2f","title":"Survival probability"}},"text":{"field":"p"}}}]},
{"width":166,"height":153,"layer":[
{"transform":[{"filter":"datum.panel==='120 Months'"}],"mark":{"type":"line","strokeWidth":2.6,"interpolate":"monotone"},"encoding":{"x":{"field":"time","type":"quantitative","scale":{"domain":[-6.5,130],"nice":false,"zero":false},"axis":{"values":[0,25,50,75,100,125],"title":"Time"}},"y":{"field":"surv","type":"quantitative","scale":{"domain":[-0.05,1.05],"nice":false,"zero":false},"axis":{"values":[0,0.25,0.5,0.75,1],"format":".2f","title":"Survival probability"}},"color":{"field":"group","type":"nominal","title":"Prior Cancer History","scale":{"domain":["Yes","No"],"range":["#F8766D","#00BFC4"]}}}},
{"transform":[{"filter":"datum.panel==='120 Months'"}],"mark":{"type":"point","shape":"M-1,0H1M0,-1V1","size":14,"strokeWidth":1,"filled":false,"opacity":0.9},"encoding":{"x":{"field":"time","type":"quantitative","axis":{"values":[0,25,50,75,100,125],"title":"Time"}},"y":{"field":"surv","type":"quantitative","axis":{"values":[0,0.25,0.5,0.75,1],"format":".2f","title":"Survival probability"}},"color":{"field":"group","type":"nominal"}}},
{"data":{"values":[{"label":"120 Months","p":"p = 0.68"}]},"mark":{"type":"text","fontSize":17,"fontWeight":"bold","align":"center","baseline":"alphabetic","color":"#000"},"encoding":{"x":{"datum":61.75,"type":"quantitative","axis":{"values":[0,25,50,75,100,125],"title":"Time"}},"y":{"datum":0.905,"type":"quantitative","axis":{"values":[0,0.25,0.5,0.75,1],"format":".2f","title":"Survival probability"}},"text":{"field":"label"}}},
{"data":{"values":[{"label":"120 Months","p":"p = 0.68"}]},"mark":{"type":"text","fontSize":7.5,"align":"left","baseline":"alphabetic","color":"#000"},"encoding":{"x":{"datum":2.5,"type":"quantitative","axis":{"values":[0,25,50,75,100,125],"title":"Time"}},"y":{"datum":0.175,"type":"quantitative","axis":{"values":[0,0.25,0.5,0.75,1],"format":".2f","title":"Survival probability"}},"text":{"field":"p"}}}]},
{"width":166,"height":153,"layer":[
{"transform":[{"filter":"datum.panel==='Stage IV'"}],"mark":{"type":"line","strokeWidth":2.6,"interpolate":"monotone"},"encoding":{"x":{"field":"time","type":"quantitative","scale":{"domain":[-6.5,130],"nice":false,"zero":false},"axis":{"values":[0,25,50,75,100,125],"title":"Time"}},"y":{"field":"surv","type":"quantitative","scale":{"domain":[-0.05,1.05],"nice":false,"zero":false},"axis":{"values":[0,0.25,0.5,0.75,1],"format":".2f","title":"Survival probability"}},"color":{"field":"group","type":"nominal","title":"Prior Cancer History","scale":{"domain":["Yes","No"],"range":["#F8766D","#00BFC4"]}}}},
{"transform":[{"filter":"datum.panel==='Stage IV'"}],"mark":{"type":"point","shape":"M-1,0H1M0,-1V1","size":14,"strokeWidth":1,"filled":false,"opacity":0.9},"encoding":{"x":{"field":"time","type":"quantitative","axis":{"values":[0,25,50,75,100,125],"title":"Time"}},"y":{"field":"surv","type":"quantitative","axis":{"values":[0,0.25,0.5,0.75,1],"format":".2f","title":"Survival probability"}},"color":{"field":"group","type":"nominal"}}},
{"data":{"values":[{"label":"Stage IV","p":"p < 0.0001"}]},"mark":{"type":"text","fontSize":17,"fontWeight":"bold","align":"center","baseline":"alphabetic","color":"#000"},"encoding":{"x":{"datum":61.75,"type":"quantitative","axis":{"values":[0,25,50,75,100,125],"title":"Time"}},"y":{"datum":0.905,"type":"quantitative","axis":{"values":[0,0.25,0.5,0.75,1],"format":".2f","title":"Survival probability"}},"text":{"field":"label"}}},
{"data":{"values":[{"label":"Stage IV","p":"p < 0.0001"}]},"mark":{"type":"text","fontSize":7.5,"align":"left","baseline":"alphabetic","color":"#000"},"encoding":{"x":{"datum":44,"type":"quantitative","axis":{"values":[0,25,50,75,100,125],"title":"Time"}},"y":{"datum":0.175,"type":"quantitative","axis":{"values":[0,0.25,0.5,0.75,1],"format":".2f","title":"Survival probability"}},"text":{"field":"p"}}}]}
]
}
